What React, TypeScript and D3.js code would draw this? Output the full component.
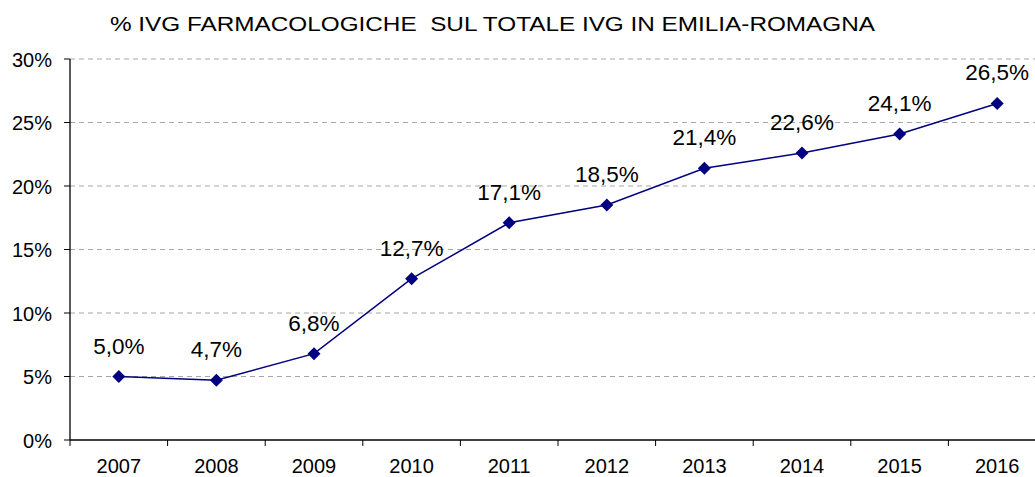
import React from "react";
import * as d3 from "d3";

const years = ["2007", "2008", "2009", "2010", "2011", "2012", "2013", "2014", "2015", "2016"];
const values = [5.0, 4.7, 6.8, 12.7, 17.1, 18.5, 21.4, 22.6, 24.1, 26.5];
const yTicks = [0, 5, 10, 15, 20, 25, 30];
const title = "% IVG FARMACOLOGICHE  SUL TOTALE IVG IN EMILIA-ROMAGNA";

const W = 1035;
const H = 477;
const left = 70;
const top = 59;
const bottom = 440;
const bandW = 97.6;

export default function App() {
  const x = d3.scaleBand<string>().domain(years).range([left, left + bandW * years.length]);
  const y = d3.scaleLinear().domain([0, 30]).range([bottom, top]);
  const line = d3
    .line<number>()
    .x((_, i) => (x(years[i]) as number) + x.bandwidth() / 2)
    .y((d) => y(d));
  const fmt = (v: number) => v.toFixed(1).replace(".", ",") + "%";
  const font = "Liberation Sans, Arial, sans-serif";
  return (
    <svg
      width={W}
      height={H}
      style={{ position: "absolute", left: 0, top: 0, background: "#fff" }}
      fontFamily={font}
    >
      <text
        x={110}
        y={31}
        fontSize={20}
        textLength={765}
        lengthAdjust="spacingAndGlyphs"
        style={{ whiteSpace: "pre" }}
        fill="#000"
      >
        {title}
      </text>
      {yTicks.map((t) => (
        <g key={t}>
          {t > 0 && (
            <line
              x1={left}
              x2={W}
              y1={y(t)}
              y2={y(t)}
              stroke="#a6a6a6"
              strokeWidth={1}
              strokeDasharray="5,4"
            />
          )}
          <line x1={left - 6} x2={left} y1={y(t)} y2={y(t)} stroke="#000" strokeWidth={1} />
          <text x={left - 18} y={y(t) + 7.5} textAnchor="end" fontSize={20} fill="#000">
            {t}%
          </text>
        </g>
      ))}
      <line x1={left} x2={left} y1={top} y2={bottom} stroke="#000" strokeWidth={1.3} />
      <line x1={left} x2={W} y1={bottom} y2={bottom} stroke="#000" strokeWidth={1.3} />
      {years.map((yr) => (
        <g key={yr}>
          <line
            x1={x(yr) as number}
            x2={x(yr) as number}
            y1={bottom}
            y2={bottom + 6}
            stroke="#000"
            strokeWidth={1}
          />
          <text
            x={(x(yr) as number) + x.bandwidth() / 2}
            y={bottom + 33}
            textAnchor="middle"
            fontSize={20}
            fill="#000"
          >
            {yr}
          </text>
        </g>
      ))}
      <path d={line(values) || ""} fill="none" stroke="#000080" strokeWidth={1.5} />
      {values.map((v, i) => {
        const cx = (x(years[i]) as number) + x.bandwidth() / 2;
        const cy = y(v);
        const s = 6.5;
        return (
          <g key={i}>
            <path
              d={`M${cx},${cy - s}L${cx + s},${cy}L${cx},${cy + s}L${cx - s},${cy}Z`}
              fill="#000080"
            />
            <text x={cx} y={cy - 23} textAnchor="middle" fontSize={22.5} fill="#000">
              {fmt(v)}
            </text>
          </g>
        );
      })}
    </svg>
  );
}
